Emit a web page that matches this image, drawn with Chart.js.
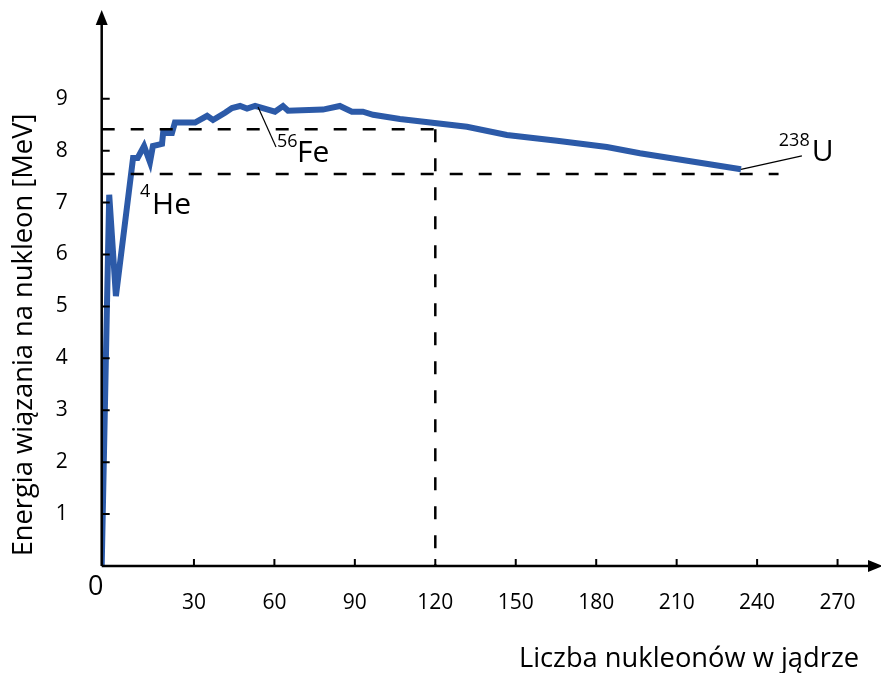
<!DOCTYPE html>
<html lang="pl">
<head>
<meta charset="utf-8">
<title>Energia wiązania na nukleon</title>
<script src="https://cdn.jsdelivr.net/npm/chart.js@4.4.1/dist/chart.umd.min.js"></script>
<style>
  html, body { margin: 0; padding: 0; background: #fff; }
  #wrap { width: 881px; height: 673px; }
</style>
</head>
<body>
<div id="wrap"><canvas id="bindingChart" width="881" height="673"></canvas></div>
<script>
// Liczba nukleonów (A) i energia wiązania na nukleon [MeV]
const nucleonNumbers = [-4.4, -1.6, 0.9, 7.3, 9.0, 11.4, 13.6, 14.7, 18.1, 18.5, 21.8, 22.9, 30.4,
    34.9, 37.1, 41.6, 44.2, 47.2, 49.8, 52.8, 60.2, 63.2, 65.1, 78.1, 84.4, 88.9, 93.0, 96.8,
    106.8, 131.8, 146.7, 165.4, 184.0, 196.3, 234.0];
const bindingEnergy = [0, 7.15, 5.2, 7.86, 7.86, 8.09, 7.78, 8.09, 8.13, 8.34, 8.34, 8.54, 8.54,
    8.67, 8.59, 8.73, 8.82, 8.86, 8.81, 8.86, 8.75, 8.86, 8.77, 8.79, 8.86, 8.75, 8.75, 8.69,
    8.61, 8.46, 8.30, 8.19, 8.07, 7.95, 7.64];

const xTickValues = [30, 60, 90, 120, 150, 180, 210, 240, 270];
const yTickValues = [1, 2, 3, 4, 5, 6, 7, 8, 9];

// linie pomocnicze (przerywane)
const feLevel = 8.41;
const feLineEndA = 120;
const heLevel = 7.55;
const heLineEndA = 248;

const xMin = -4.4, xMax = 286.2;
const yMin = 0, yMax = 10.67;

const curveColor = "#2c5aa8";
const font = "'Open Sans', 'Noto Sans', sans-serif";

const originLabel = "0";
const xTitle = "Liczba nukleonów w jądrze";
const yTitle = "Energia wiązania na nukleon [MeV]";

// etykiety nuklidów (współrzędne w jednostkach osi)
const nuclideLabels = [
    { mass: "4", symbol: "He", massAt: [9.9, 7.11], symbolAt: [14.4, 6.78] },
    { mass: "56", symbol: "Fe", massAt: [61.0, 8.07], symbolAt: [68.4, 7.78], leader: [[53.9, 8.84], [60.6, 8.07]] },
    { mass: "238", symbol: "U", massAt: [248.1, 8.09], symbolAt: [260.4, 7.80], leader: [[234.0, 7.64], [256.7, 7.90]] }
];

function arrowHead(ctx, x, y, dir) {
    ctx.beginPath();
    if (dir === "up") {
        ctx.moveTo(x, y);
        ctx.lineTo(x - 6, y + 15);
        ctx.lineTo(x + 6, y + 15);
    } else {
        ctx.moveTo(x, y);
        ctx.lineTo(x - 15, y - 6);
        ctx.lineTo(x - 15, y + 6);
    }
    ctx.closePath();
    ctx.fill();
}

const axesPlugin = {
    id: "rysunekOsi",
    afterDatasetsDraw(chart) {
        const ctx = chart.ctx;
        const xs = chart.scales.x;
        const ys = chart.scales.y;
        const area = chart.chartArea;
        const x0 = xs.getPixelForValue(xMin);
        const y0 = ys.getPixelForValue(0);

        ctx.save();
        ctx.strokeStyle = "#000";
        ctx.fillStyle = "#000";

        // osie
        ctx.lineWidth = 2.5;
        ctx.beginPath();
        ctx.moveTo(x0, y0);
        ctx.lineTo(area.right - 8, y0);
        ctx.moveTo(x0, y0);
        ctx.lineTo(x0, area.top + 8);
        ctx.stroke();
        arrowHead(ctx, x0, area.top - 2, "up");
        arrowHead(ctx, area.right + 2, y0, "right");

        // znaczniki
        ctx.lineWidth = 2;
        ctx.beginPath();
        xTickValues.forEach(v => {
            const px = xs.getPixelForValue(v);
            ctx.moveTo(px, y0);
            ctx.lineTo(px, y0 - 7);
        });
        yTickValues.forEach(v => {
            const py = ys.getPixelForValue(v);
            ctx.moveTo(x0, py);
            ctx.lineTo(x0 + 8, py);
        });
        ctx.stroke();

        // opisy znaczników
        ctx.font = "21px " + font;
        ctx.textAlign = "center";
        ctx.textBaseline = "middle";
        xTickValues.forEach(v => ctx.fillText(String(v), xs.getPixelForValue(v), y0 + 37));
        ctx.textAlign = "right";
        yTickValues.forEach(v => ctx.fillText(String(v), x0 - 34, ys.getPixelForValue(v)));

        ctx.font = "27px " + font;
        ctx.textAlign = "center";
        ctx.fillText(originLabel, x0 - 6, y0 + 21);

        // tytuły osi
        ctx.font = "27.3px " + font;
        ctx.textAlign = "right";
        ctx.textBaseline = "alphabetic";
        ctx.fillText(xTitle, 859, 667);

        ctx.save();
        ctx.translate(32, 335);
        ctx.rotate(-Math.PI / 2);
        ctx.textAlign = "center";
        ctx.fillText(yTitle, 0, 0);
        ctx.restore();

        // etykiety nuklidów
        nuclideLabels.forEach(lab => {
            if (lab.leader) {
                ctx.lineWidth = 1.2;
                ctx.beginPath();
                ctx.moveTo(xs.getPixelForValue(lab.leader[0][0]), ys.getPixelForValue(lab.leader[0][1]));
                ctx.lineTo(xs.getPixelForValue(lab.leader[1][0]), ys.getPixelForValue(lab.leader[1][1]));
                ctx.stroke();
            }
            ctx.textAlign = "left";
            ctx.font = "18px " + font;
            ctx.fillText(lab.mass, xs.getPixelForValue(lab.massAt[0]), ys.getPixelForValue(lab.massAt[1]));
            ctx.font = "30px " + font;
            ctx.fillText(lab.symbol, xs.getPixelForValue(lab.symbolAt[0]), ys.getPixelForValue(lab.symbolAt[1]));
        });

        ctx.restore();
    }
};

const curvePoints = nucleonNumbers.map((a, i) => ({ x: a, y: bindingEnergy[i] }));
const dashStyle = { borderColor: "#000", borderWidth: 2.5, borderDash: [13, 16], pointRadius: 0, showLine: true, fill: false };

new Chart(document.getElementById("bindingChart"), {
    type: "scatter",
    data: {
        datasets: [
            Object.assign({ data: [{ x: xMin, y: feLevel }, { x: feLineEndA, y: feLevel }] }, dashStyle),
            Object.assign({ data: [{ x: feLineEndA, y: feLevel }, { x: feLineEndA, y: 0 }] }, dashStyle),
            Object.assign({ data: [{ x: xMin, y: heLevel }, { x: heLineEndA, y: heLevel }] }, dashStyle),
            {
                data: curvePoints,
                showLine: true,
                borderColor: curveColor,
                borderWidth: 6,
                borderJoinStyle: "miter",
                pointRadius: 0,
                tension: 0,
                fill: false
            }
        ]
    },
    options: {
        responsive: false,
        animation: false,
        layout: { padding: { left: 101.7, right: 0, top: 12, bottom: 107 } },
        scales: {
            x: { type: "linear", min: xMin, max: xMax, display: false },
            y: { type: "linear", min: yMin, max: yMax, display: false }
        },
        plugins: { legend: { display: false }, tooltip: { enabled: false } }
    },
    plugins: [axesPlugin]
});
</script>
</body>
</html>
